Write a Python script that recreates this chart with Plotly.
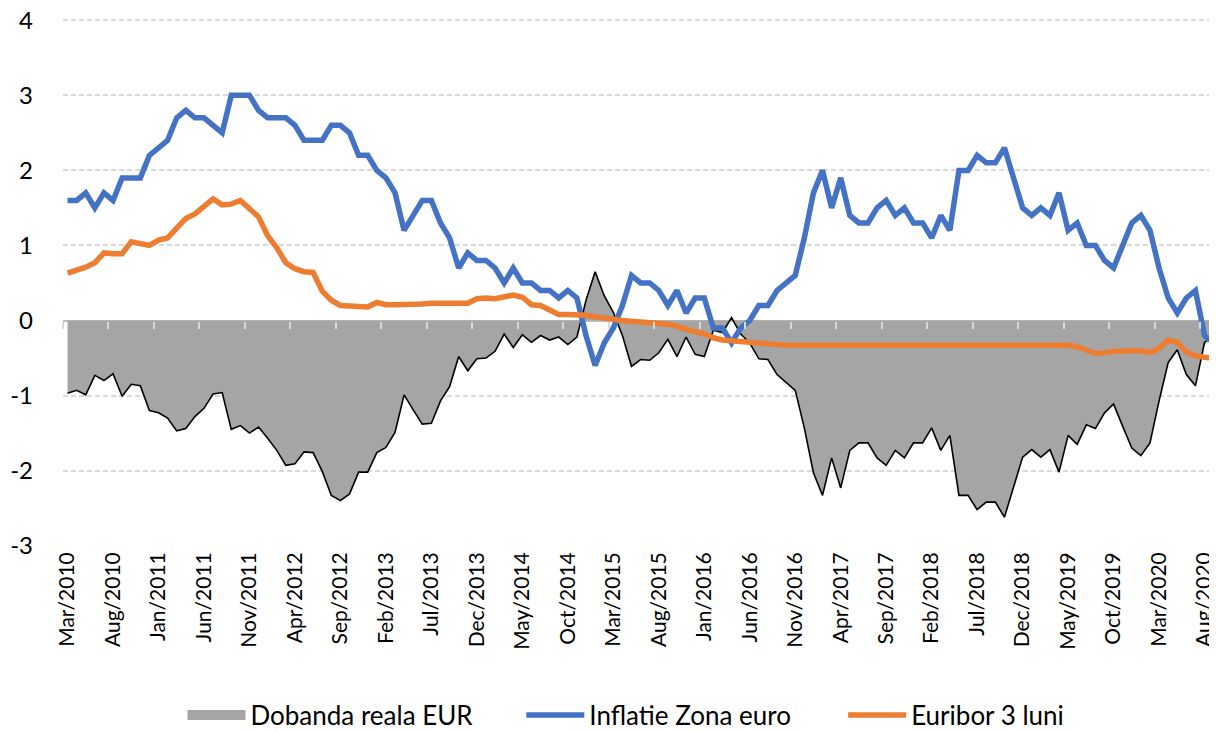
import plotly.graph_objects as go

month_names = ["Jan", "Feb", "Mar", "Apr", "May", "Jun", "Jul", "Aug", "Sep", "Oct", "Nov", "Dec"]
months = []
for y in range(2010, 2021):
    for m in month_names:
        months.append(f"{m}/{y}")
months = months[2:2 + 128]  # Mar/2010 .. Oct/2020

inflation = [
    1.6, 1.6, 1.7, 1.5, 1.7, 1.6, 1.9, 1.9, 1.9, 2.2,
    2.3, 2.4, 2.7, 2.8, 2.7, 2.7, 2.6, 2.5, 3.0, 3.0,
    3.0, 2.8, 2.7, 2.7, 2.7, 2.6, 2.4, 2.4, 2.4, 2.6,
    2.6, 2.5, 2.2, 2.2, 2.0, 1.9, 1.7, 1.2, 1.4, 1.6,
    1.6, 1.3, 1.1, 0.7, 0.9, 0.8, 0.8, 0.7, 0.5, 0.7,
    0.5, 0.5, 0.4, 0.4, 0.3, 0.4, 0.3, -0.2, -0.6, -0.3,
    -0.1, 0.2, 0.6, 0.5, 0.5, 0.4, 0.2, 0.4, 0.1, 0.3,
    0.3, -0.1, -0.1, -0.3, -0.1, 0.0, 0.2, 0.2, 0.4, 0.5,
    0.6, 1.1, 1.7, 2.0, 1.5, 1.9, 1.4, 1.3, 1.3, 1.5,
    1.6, 1.4, 1.5, 1.3, 1.3, 1.1, 1.4, 1.2, 2.0, 2.0,
    2.2, 2.1, 2.1, 2.3, 1.9, 1.5, 1.4, 1.5, 1.4, 1.7,
    1.2, 1.3, 1.0, 1.0, 0.8, 0.7, 1.0, 1.3, 1.4, 1.2,
    0.7, 0.3, 0.1, 0.3, 0.4, -0.2, -0.3, -0.3,
]

euribor = [
    0.63, 0.67, 0.71, 0.77, 0.90, 0.89, 0.89, 1.05, 1.03, 1.00,
    1.07, 1.10, 1.23, 1.36, 1.42, 1.53, 1.62, 1.54, 1.55, 1.60,
    1.50, 1.38, 1.13, 0.97, 0.77, 0.69, 0.65, 0.64, 0.39, 0.27,
    0.20, 0.19, 0.18, 0.18, 0.24, 0.21, 0.21, 0.21, 0.21, 0.22,
    0.23, 0.23, 0.22, 0.22, 0.23, 0.29, 0.30, 0.29, 0.32, 0.34,
    0.31, 0.21, 0.20, 0.14, 0.08, 0.08, 0.08, 0.07, 0.05, 0.03,
    0.01, 0.00, -0.01, -0.02, -0.03, -0.03, -0.05, -0.08, -0.12, -0.15,
    -0.18, -0.23, -0.26, -0.27, -0.28, -0.30, -0.31, -0.32, -0.32, -0.33,
    -0.33, -0.33, -0.33, -0.33, -0.33, -0.33, -0.33, -0.33, -0.33, -0.33,
    -0.33, -0.33, -0.33, -0.33, -0.33, -0.33, -0.33, -0.33, -0.33, -0.33,
    -0.32, -0.32, -0.32, -0.32, -0.32, -0.32, -0.32, -0.32, -0.32, -0.32,
    -0.33, -0.35, -0.39, -0.44, -0.43, -0.41, -0.41, -0.40, -0.40, -0.43,
    -0.37, -0.26, -0.29, -0.42, -0.47, -0.49, -0.51, -0.52,
]

real_rate = [
    -0.97, -0.93, -0.99, -0.73, -0.80, -0.71, -1.01, -0.85, -0.87, -1.20,
    -1.23, -1.30, -1.47, -1.44, -1.28, -1.17, -0.98, -0.96, -1.45, -1.40,
    -1.50, -1.42, -1.57, -1.73, -1.93, -1.91, -1.75, -1.76, -2.01, -2.33,
    -2.40, -2.31, -2.02, -2.02, -1.76, -1.69, -1.49, -0.99, -1.19, -1.38,
    -1.37, -1.07, -0.88, -0.48, -0.67, -0.51, -0.50, -0.41, -0.18, -0.36,
    -0.19, -0.29, -0.20, -0.26, -0.22, -0.32, -0.22, 0.27, 0.65, 0.33,
    0.11, -0.20, -0.61, -0.52, -0.53, -0.43, -0.25, -0.48, -0.22, -0.45,
    -0.48, -0.13, -0.16, 0.04, -0.18, -0.30, -0.51, -0.52, -0.72, -0.83,
    -0.93, -1.43, -2.03, -2.33, -1.83, -2.23, -1.73, -1.63, -1.63, -1.83,
    -1.93, -1.73, -1.83, -1.63, -1.63, -1.43, -1.73, -1.53, -2.33, -2.33,
    -2.52, -2.42, -2.42, -2.62, -2.22, -1.82, -1.72, -1.82, -1.72, -2.02,
    -1.53, -1.65, -1.39, -1.44, -1.23, -1.11, -1.41, -1.70, -1.80, -1.63,
    -1.07, -0.56, -0.39, -0.72, -0.87, -0.29, -0.21, -0.22,
]

y_ticks = [4, 3, 2, 1, 0, -1, -2, -3]
series_names = ["Dobanda reala EUR", "Inflatie Zona euro", "Euribor 3 luni"]

idx = list(range(len(months)))
label_idx = idx[::5]
label_text = months[::5]
boundary_ticks = [i - 0.5 for i in label_idx]

FONT = "Lato"
# page body has an 8px default margin: size/place the figure so the
# plot lands where the reference has it in the 1217x732 window
OFF = 8
PX_PER_UNIT = 75.0
Y_LO, Y_HI = -3.004, 4.03          # small pad so the top gridline is drawn
W, H = 1217 - OFF, 732 - OFF
ZERO_SCREEN = 320.7
PLOT_BOTTOM = ZERO_SCREEN - OFF - Y_LO * PX_PER_UNIT
PLOT_TOP = ZERO_SCREEN - OFF - Y_HI * PX_PER_UNIT
ML, MT = 62.5 - OFF, PLOT_TOP
MB = H - PLOT_BOTTOM
PLOT_W = W - ML
PLOT_H = PLOT_BOTTOM - PLOT_TOP
cat_w = 9.1
x_max = -0.5 + PLOT_W / cat_w


def paper_x(screen_x):
    return (screen_x - OFF - ML) / PLOT_W


def paper_y(screen_y):
    return (PLOT_BOTTOM - (screen_y - OFF)) / PLOT_H


fig = go.Figure()
fig.add_trace(go.Scatter(
    x=idx, y=real_rate, name=series_names[0], mode="lines",
    line=dict(color="#000000", width=1.6), fill="tozeroy", fillcolor="#A5A5A5",
    showlegend=False, legendgroup="real",
))
# legend swatch for the area series (gray box), on the tick-mark axis
fig.add_trace(go.Scatter(
    x=[None], y=[None], name=series_names[0], mode="lines", xaxis="x2",
    line=dict(color="#A5A5A5", width=16), legendgroup="real", legend="legend",
    hoverinfo="skip",
))
fig.add_trace(go.Scatter(
    x=idx, y=inflation, name=series_names[1], mode="lines",
    line=dict(color="#4472C4", width=5.5), legend="legend2",
))
fig.add_trace(go.Scatter(
    x=idx, y=euribor, name=series_names[2], mode="lines",
    line=dict(color="#ED7D31", width=5.5), legend="legend3",
))

leg_common = dict(
    orientation="h", xanchor="left", yanchor="middle", y=paper_y(715),
    font=dict(family=FONT, size=26, color="#000000"),
    itemwidth=58, bgcolor="rgba(0,0,0,0)", borderwidth=0,
)

fig.update_layout(
    width=W, height=H,
    margin=dict(l=ML, r=0, t=MT, b=MB, autoexpand=False),
    paper_bgcolor="white", plot_bgcolor="white",
    font=dict(family=FONT, size=24, color="#000000"),
    showlegend=True,
    legend=dict(leg_common, x=paper_x(182)),
    legend2=dict(leg_common, x=paper_x(521)),
    legend3=dict(leg_common, x=paper_x(843)),
    xaxis=dict(
        range=[-0.5, x_max], showgrid=False, zeroline=False, showline=False,
        tickmode="array", tickvals=label_idx, ticktext=label_text,
        tickangle=-90, ticks="", ticklabelstandoff=1,
        tickfont=dict(family=FONT, size=21, color="#000000"),
        ticklabeloverflow="allow", automargin=False,
    ),
    xaxis2=dict(
        overlaying="x", matches="x", anchor="free", position=(0 - Y_LO) / (Y_HI - Y_LO),
        side="bottom",
        showgrid=False, zeroline=False, showline=False, showticklabels=False,
        tickmode="array", tickvals=boundary_ticks,
        ticks="outside", ticklen=7, tickwidth=1.5, tickcolor="#D9D9D9",
        layer="above traces",
    ),
    yaxis=dict(
        range=[Y_LO, Y_HI], tickmode="array", tickvals=y_ticks,
        ticktext=[str(v) for v in y_ticks],
        showgrid=True, gridcolor="#D9D9D9", gridwidth=1.5, griddash="5px,3px",
        zeroline=True, zerolinecolor="#BFBFBF", zerolinewidth=2,
        showline=False, ticks="", ticklabelstandoff=29,
        tickfont=dict(family=FONT, size=24, color="#000000"),
        ticklabeloverflow="allow", automargin=False,
    ),
)

fig.write_html("out.html")
